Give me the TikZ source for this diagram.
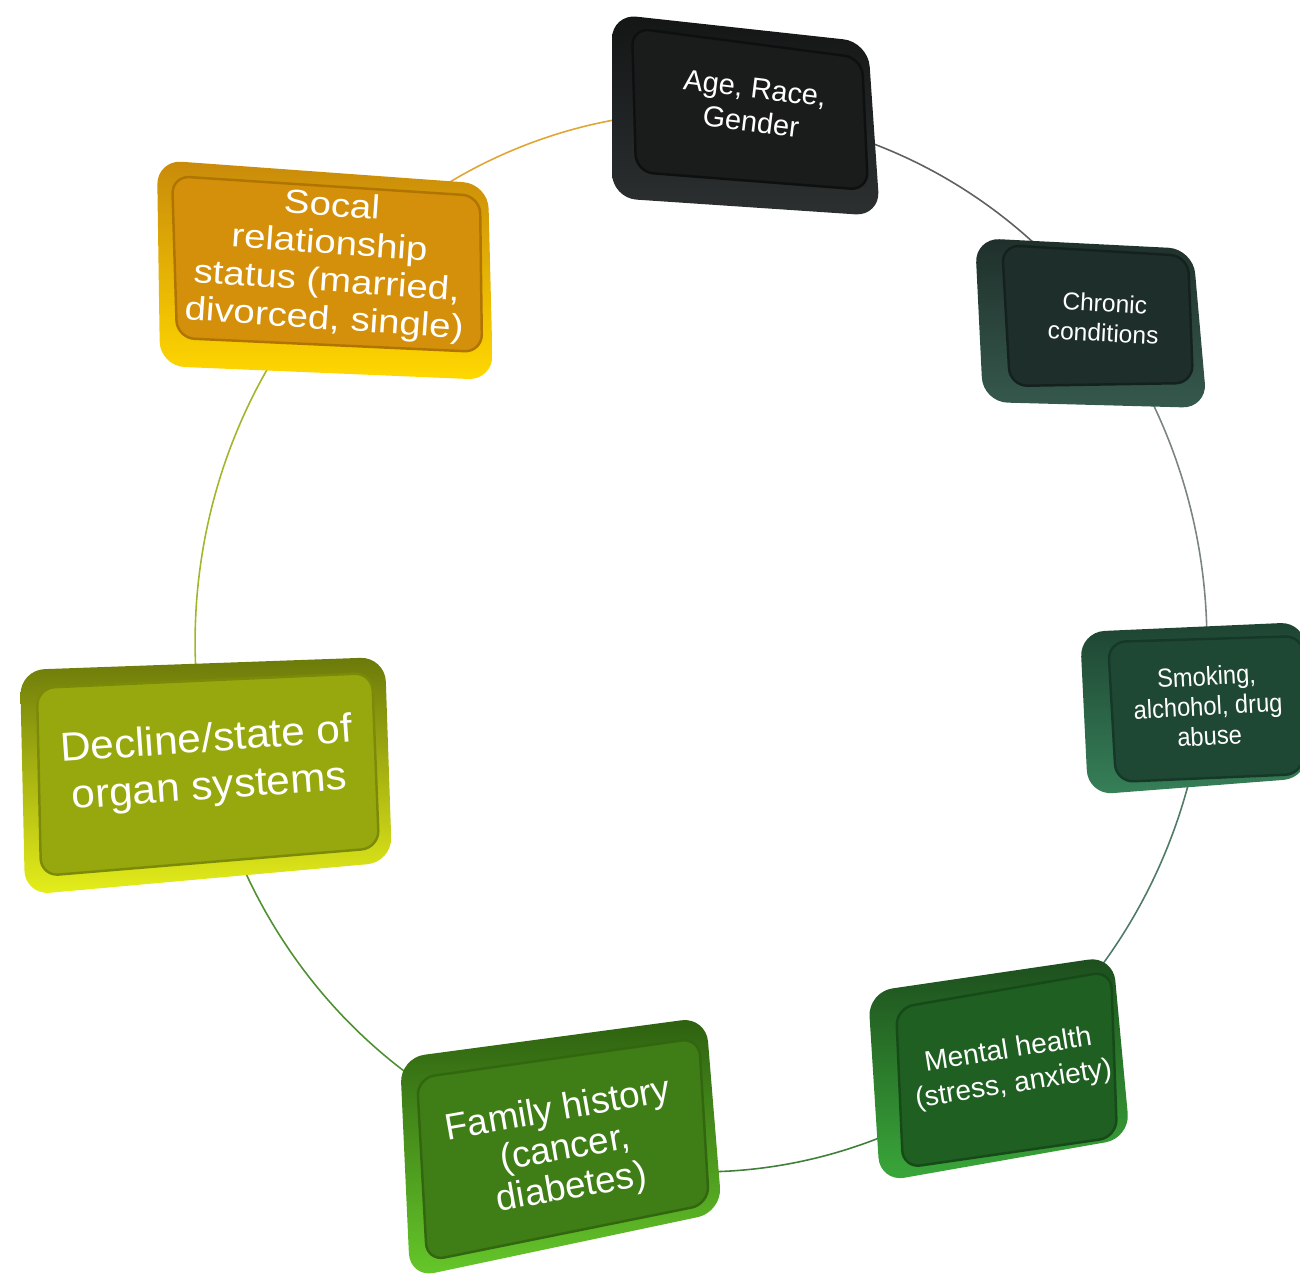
\documentclass[tikz,border=0pt]{standalone}
\usepackage{fontspec}
\setmainfont{Liberation Sans}
\usetikzlibrary{calc}
\definecolor{lnAC}{HTML}{5F6060}
\definecolor{lnCS}{HTML}{7A8580}
\definecolor{lnSM}{HTML}{4F7A65}
\definecolor{lnMF}{HTML}{3F7F3A}
\definecolor{lnFD}{HTML}{4F9030}
\definecolor{lnDS}{HTML}{A3B52A}
\definecolor{lnSA}{HTML}{E0A535}
\definecolor{ageT}{HTML}{141616}\definecolor{ageB}{HTML}{2C3030}\definecolor{ageF}{HTML}{1A1B1B}\definecolor{ageE}{HTML}{0E0F0F}
\definecolor{chrT}{HTML}{1F302B}\definecolor{chrB}{HTML}{36594D}\definecolor{chrF}{HTML}{1E2E2A}\definecolor{chrE}{HTML}{15211E}
\definecolor{smkT}{HTML}{1E4432}\definecolor{smkB}{HTML}{368058}\definecolor{smkF}{HTML}{1F4834}\definecolor{smkE}{HTML}{163829}
\definecolor{menT}{HTML}{1D4D1D}\definecolor{menB}{HTML}{3AA83A}\definecolor{menF}{HTML}{1F5F22}\definecolor{menE}{HTML}{174A19}
\definecolor{famT}{HTML}{2E6010}\definecolor{famB}{HTML}{66C82A}\definecolor{famF}{HTML}{3F7D16}\definecolor{famE}{HTML}{32660F}
\definecolor{decT}{HTML}{6B7A0A}\definecolor{decB}{HTML}{E6EE1A}\definecolor{decF}{HTML}{97A80E}\definecolor{decE}{HTML}{7C8A0A}
\definecolor{socT}{HTML}{C98A0A}\definecolor{socB}{HTML}{FFD800}\definecolor{socF}{HTML}{D4900A}\definecolor{socE}{HTML}{B07400}
\begin{document}
\begin{tikzpicture}[x=0.02cm,y=-0.02cm,
  ring/.style={line width=0.9pt},
  bodyshape/.style={rounded corners=14pt},
  faceshape/.style={rounded corners=10pt, line width=1.4pt},
  lbl/.style={text=white, align=center, inner sep=0pt}]
\useasboundingbox (0,0) rectangle (1300,1280);
\clip (0,0) rectangle (1300,1280);
% ring
\coordinate (C) at (701,642);
\coordinate (pAge) at ($(C)+(85:10.12cm and 10.6cm)$);
\coordinate (pChr) at ($(C)+(38.3:10.12cm and 10.6cm)$);
\coordinate (pSmk) at ($(C)+(-7.5:10.12cm and 10.6cm)$);
\coordinate (pMen) at ($(C)+(-53.8:10.12cm and 10.6cm)$);
\coordinate (pFam) at ($(C)+(-106:10.12cm and 10.6cm)$);
\coordinate (pDec) at ($(C)+(-166:10.12cm and 10.6cm)$);
\coordinate (pSoc) at ($(C)+(136:10.12cm and 10.6cm)$);
\draw[ring, lnAC] (pAge) arc[start angle=85, end angle=38.3, x radius=10.12cm, y radius=10.6cm];
\draw[ring, lnCS] (pChr) arc[start angle=38.3, end angle=-7.5, x radius=10.12cm, y radius=10.6cm];
\draw[ring, lnSM] (pSmk) arc[start angle=-7.5, end angle=-53.8, x radius=10.12cm, y radius=10.6cm];
\draw[ring, lnMF] (pMen) arc[start angle=-53.8, end angle=-106, x radius=10.12cm, y radius=10.6cm];
\draw[ring, lnFD] (pFam) arc[start angle=-106, end angle=-166, x radius=10.12cm, y radius=10.6cm];
\draw[ring, lnDS] (pDec) arc[start angle=-166, end angle=-224, x radius=10.12cm, y radius=10.6cm];
\draw[ring, lnSA] (pSoc) arc[start angle=136, end angle=85, x radius=10.12cm, y radius=10.6cm];
% Age box
\path[bodyshape, top color=ageT, bottom color=ageB] (612,14) -- (868,42) -- (880,216) -- (612,198) -- cycle;
\path[faceshape, fill=ageF, draw=ageE] (632,28) -- (862,58) -- (868,190) -- (636,172) -- cycle;
% Chronic box
\path[bodyshape, top color=chrT, bottom color=chrB] (975,238) -- (1193,249) -- (1207,408) -- (983,402) -- cycle;
\path[faceshape, fill=chrF, draw=chrE] (1002,245) -- (1188,256) -- (1193,383) -- (1010,386) -- cycle;
% Smoking box
\path[bodyshape, top color=smkT, bottom color=smkB] (1080,632) -- (1305,622) -- (1308,778) -- (1088,795) -- cycle;
\path[faceshape, fill=smkF, draw=smkE] (1108,642) -- (1303,636) -- (1303,774) -- (1116,782) -- cycle;
% Mental box
\path[bodyshape, top color=menT, bottom color=menB] (868,992) -- (1113,956) -- (1130,1138) -- (880,1182) -- cycle;
\path[faceshape, fill=menF, draw=menE] (896,1008) -- (1111,971) -- (1117,1137) -- (903,1168) -- cycle;
% Family box
\path[bodyshape, top color=famT, bottom color=famB] (400,1058) -- (706,1017) -- (722,1212) -- (410,1278) -- cycle;
\path[faceshape, fill=famF, draw=famE] (417,1078) -- (699,1038) -- (709,1204) -- (427,1261) -- cycle;
% Decline box
\path[bodyshape, top color=decT, bottom color=decB] (20,670) -- (385,657) -- (392,862) -- (25,895) -- cycle;
\path[faceshape, fill=decF, draw=decE] (37,688) -- (372,673) -- (379,848) -- (41,876) -- cycle;
% Social box
\path[bodyshape, top color=socT, bottom color=socB] (157,160) -- (488,184) -- (493,380) -- (160,366) -- cycle;
\path[faceshape, fill=socF, draw=socE] (172,176) -- (480,196) -- (482,352) -- (177,338) -- cycle;
% labels
\node[lbl, rotate=-7, font=\fontsize{16.5}{19}\selectfont] (age) at (753,105) {Age, Race,\\Gender};
\node[lbl, rotate=-3, font=\fontsize{14}{17}\selectfont] (chr) at (1104,318) {Chronic\\conditions};
\node[lbl, rotate=3, yscale=1.1, font=\fontsize{13.5}{15.5}\selectfont] (smk) at (1208,706) {Smoking,\\alchohol, drug\\abuse};
\node[lbl, rotate=9, font=\fontsize{16}{19.6}\selectfont] (men) at (1011,1068) {Mental health\\(stress, anxiety)};
\node[lbl, rotate=10, font=\fontsize{21}{22.5}\selectfont] (fam) at (565,1150) {Family history\\(cancer,\\diabetes)};
\node[lbl, rotate=4, xscale=1.05, font=\fontsize{23}{27}\selectfont] (dec) at (208,765) {Decline/state of\\organ systems};
\node[lbl, rotate=-4, xscale=1.15, font=\fontsize{19}{21.5}\selectfont] (soc) at (328,264) {Socal\\relationship\\status (married,\\divorced, single)};
\end{tikzpicture}
\end{document}
